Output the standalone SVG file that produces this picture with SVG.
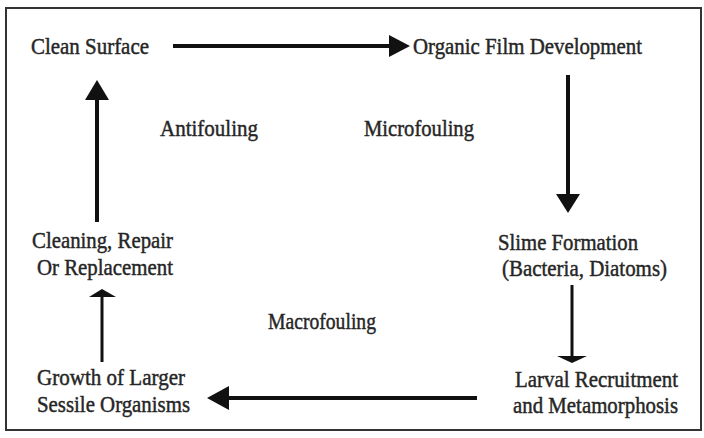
<svg xmlns="http://www.w3.org/2000/svg" width="704" height="438" viewBox="0 0 704 438">
<style>
text{font-family:"Liberation Serif","Times New Roman",serif;font-size:23px;fill:#262626;stroke:#262626;stroke-width:0.45}
.ln{stroke:#111;stroke-width:4;fill:none}
.ln3{stroke:#111;stroke-width:3;fill:none}
.hd{fill:#111}
</style>
<rect width="704" height="438" fill="#fff"/>
<rect x="6" y="8" width="695" height="422" fill="none" stroke="#333" stroke-width="2"/>
<g id="clean-surface"><text x="31" y="54" textLength="118" lengthAdjust="spacingAndGlyphs">Clean Surface</text></g>
<g id="organic-film"><text x="413" y="54" textLength="229" lengthAdjust="spacingAndGlyphs">Organic Film Development</text></g>
<g id="slime"><text x="498" y="250" textLength="140" lengthAdjust="spacingAndGlyphs">Slime Formation</text><text x="502" y="276" textLength="165" lengthAdjust="spacingAndGlyphs">(Bacteria, Diatoms)</text></g>
<g id="larval"><text x="515" y="387" textLength="163" lengthAdjust="spacingAndGlyphs">Larval Recruitment</text><text x="513" y="413" textLength="165" lengthAdjust="spacingAndGlyphs">and Metamorphosis</text></g>
<g id="growth"><text x="37" y="385" textLength="148" lengthAdjust="spacingAndGlyphs">Growth of Larger</text><text x="37" y="412" textLength="153" lengthAdjust="spacingAndGlyphs">Sessile Organisms</text></g>
<g id="cleaning"><text x="32" y="248" textLength="141" lengthAdjust="spacingAndGlyphs">Cleaning, Repair</text><text x="37" y="275" textLength="136" lengthAdjust="spacingAndGlyphs">Or Replacement</text></g>
<g id="labels">
<text x="160" y="136" textLength="98" lengthAdjust="spacingAndGlyphs">Antifouling</text>
<text x="364" y="136" textLength="110" lengthAdjust="spacingAndGlyphs">Microfouling</text>
<text x="268" y="329" textLength="108" lengthAdjust="spacingAndGlyphs">Macrofouling</text>
</g>
<g id="connectors">
<line class="ln" x1="173" y1="46" x2="392" y2="46"/>
<polygon class="hd" points="389,35 410,46 389,57"/>
<line class="ln" x1="568" y1="75" x2="568" y2="196"/>
<polygon class="hd" points="556,194 580,194 568,213"/>
<line class="ln3" x1="572" y1="285" x2="572" y2="358"/>
<polygon class="hd" points="557,356 587,356 572,363"/>
<line class="ln" x1="477" y1="398" x2="226" y2="398"/>
<polygon class="hd" points="229,386 229,410 207,398"/>
<line class="ln3" x1="102" y1="362" x2="102" y2="294"/>
<polygon class="hd" points="89,297 116,297 102,289"/>
<line class="ln" x1="97" y1="222" x2="97" y2="98"/>
<polygon class="hd" points="85,100 109,100 97,80"/>
</g>
</svg>
